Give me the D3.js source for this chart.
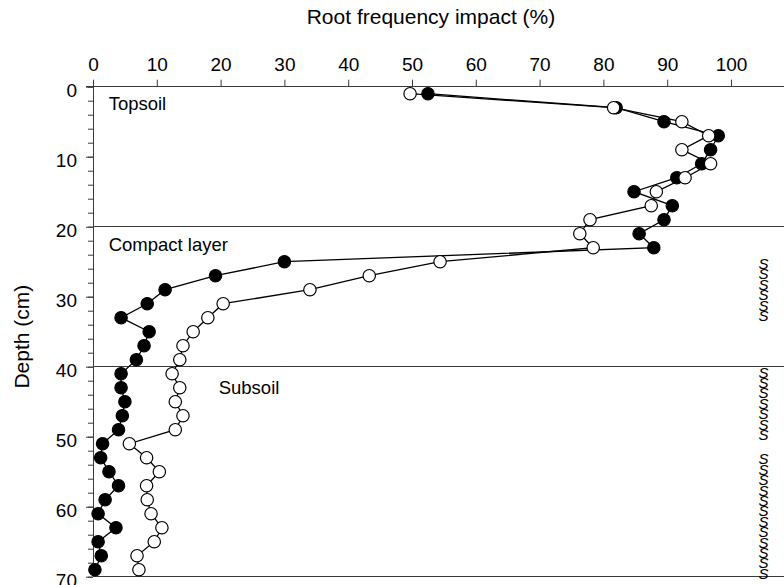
<!DOCTYPE html>
<html lang="en">
<head>
  <meta charset="UTF-8" />
  <title>Root frequency impact</title>
  <script src="https://d3js.org/d3.v7.min.js"></script>
  <style>
    body {
      margin: 0;
      background: #ffffff;
    }

    svg {
      display: block;
      font-family: 'Liberation Sans', Arial, sans-serif;
    }

    .axis path { display: none; }
    .axis line { stroke: #3a3a3a; stroke-width: 1; }
    .axis text { font-size: 19px; fill: #000; font-family: 'Liberation Sans', Arial, sans-serif; }

    .rule { stroke: #3a3a3a; stroke-width: 1; shape-rendering: crispEdges; }
    .series { fill: none; stroke: #000; stroke-width: 1.3; }
    .label { font-size: 18.5px; fill: #000; }
    .title { font-size: 21px; fill: #000; }
    .sig { font-size: 15px; font-style: italic; fill: #000; text-anchor: middle; }
  </style>
</head>
<body>
  <div id="chart"></div>

  <script>
    // depth of each sample (cm)
    const depths = [1, 3, 5, 7, 9, 11, 13, 15, 17, 19, 21, 23, 25, 27, 29, 31, 33, 35,
                    37, 39, 41, 43, 45, 47, 49, 51, 53, 55, 57, 59, 61, 63, 65, 67, 69];

    // filled circles
    const filledValues = [52.5, 82.0, 89.5, 98.0, 96.8, 95.4, 91.5, 84.8, 90.8, 89.5, 85.6, 87.9,
                          30.0, 19.2, 11.3, 8.5, 4.4, 8.8, 8.0, 6.8, 4.4, 4.4, 5.0, 4.6, 4.0,
                          1.5, 1.2, 2.5, 4.0, 1.9, 0.8, 3.6, 0.8, 1.3, 0.3];

    // open circles
    const openValues = [49.7, 81.6, 92.3, 96.5, 92.3, 96.8, 92.8, 88.3, 87.5, 77.9, 76.3, 78.4,
                        54.4, 43.3, 34.0, 20.4, 18.0, 15.7, 14.1, 13.6, 12.4, 13.6, 12.9, 14.1, 12.9,
                        5.7, 8.4, 10.4, 8.4, 8.5, 9.1, 10.8, 9.6, 6.9, 7.2];

    const xTicks = [0, 10, 20, 30, 40, 50, 60, 70, 80, 90, 100];
    const yMajorTicks = [0, 10, 20, 30, 40, 50, 60, 70];
    const yMinorTicks = [0, 2, 4, 6, 8, 10, 12, 14, 16, 18, 20, 22, 24, 26, 28, 30, 32, 34,
                         36, 38, 40, 42, 44, 46, 48, 50, 52, 54, 56, 58, 60, 62, 64, 66, 68, 70];

    // layer boundaries (cm)
    const layerBounds = [20, 40, 70];

    // layer names and where they sit (value %, depth cm of baseline)
    const layerNames = ["Topsoil", "Compact layer", "Subsoil"];
    const layerNameX = [2.45, 2.45, 19.7];
    const layerNameY = [3.3, 23.5, 43.9];

    // significance marks: start depth and number of S
    const sigStart = [24.5, 40.0, 52.4];
    const sigCount = [6, 7, 12];
    const sigX = 105.1;

    const width = 784;
    const height = 585;

    const x = d3.scaleLinear().domain([0, 100]).range([93, 731]);
    const y = d3.scaleLinear().domain([0, 70]).range([86.7, 576.7]);

    const svg = d3.select("#chart").append("svg")
      .attr("width", width)
      .attr("height", height);

    // left axis line and top axis line
    svg.append("line").attr("class", "rule")
      .attr("x1", x(0)).attr("x2", x(0))
      .attr("y1", y(0)).attr("y2", y(70));
    svg.append("line").attr("class", "rule")
      .attr("x1", x(0) - 7).attr("x2", width)
      .attr("y1", y(0)).attr("y2", y(0));

    // layer boundary lines
    svg.selectAll(".bound")
      .data(layerBounds)
      .enter().append("line")
      .attr("class", "rule bound")
      .attr("x1", x(0)).attr("x2", width)
      .attr("y1", d => y(d)).attr("y2", d => y(d));

    // axes
    svg.append("g")
      .attr("class", "axis")
      .attr("transform", `translate(0,${y(0)})`)
      .call(d3.axisTop(x).tickValues(xTicks).tickSize(7).tickPadding(8.7));

    svg.append("g")
      .attr("class", "axis")
      .attr("transform", `translate(${x(0)},0)`)
      .call(d3.axisLeft(y).tickValues(yMinorTicks).tickSize(5).tickFormat(""));

    const yAxis = svg.append("g")
      .attr("class", "axis")
      .attr("transform", `translate(${x(0)},0)`)
      .call(d3.axisLeft(y).tickValues(yMajorTicks).tickSize(7).tickPadding(9));
    yAxis.selectAll("text").attr("dy", "0.52em");

    // axis titles
    svg.append("text")
      .attr("class", "title")
      .attr("x", 431)
      .attr("y", 24)
      .attr("text-anchor", "middle")
      .text("Root frequency impact (%)");

    svg.append("text")
      .attr("class", "title")
      .attr("transform", `translate(29,${(y(0) + y(70)) / 2 + 5}) rotate(-90)`)
      .attr("text-anchor", "middle")
      .text("Depth (cm)");

    // layer names
    svg.selectAll(".label")
      .data(layerNames)
      .enter().append("text")
      .attr("class", "label")
      .attr("x", (d, i) => x(layerNameX[i]))
      .attr("y", (d, i) => y(layerNameY[i]))
      .text(d => d);

    // series
    const filled = depths.map((d, i) => ({ depth: d, value: filledValues[i] }));
    const open = depths.map((d, i) => ({ depth: d, value: openValues[i] }));

    const line = d3.line()
      .x(d => x(d.value))
      .y(d => y(d.depth));

    function drawSeries(data, fill) {
      svg.append("path")
        .datum(data)
        .attr("class", "series")
        .attr("d", line);

      svg.append("g")
        .selectAll("circle")
        .data(data)
        .enter().append("circle")
        .attr("cx", d => x(d.value))
        .attr("cy", d => y(d.depth))
        .attr("r", 6.2)
        .attr("fill", fill)
        .attr("stroke", "#000")
        .attr("stroke-width", 1.2);
    }

    drawSeries(filled, "#000");
    drawSeries(open, "#fff");

    // significance marks
    sigStart.forEach((start, g) => {
      const t = svg.append("text").attr("class", "sig");
      for (let i = 0; i < sigCount[g]; i++) {
        t.append("tspan")
          .attr("x", x(sigX))
          .attr("y", y(start) + 10.8 + i * 10.4)
          .text("S");
      }
    });
  </script>
</body>
</html>
